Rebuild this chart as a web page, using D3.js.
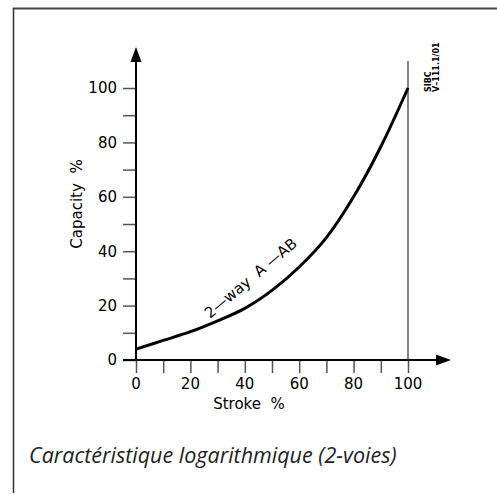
<!DOCTYPE html>
<html><head><meta charset="utf-8">
<script src="https://cdn.jsdelivr.net/npm/d3@7"></script>
<style>html,body{margin:0;padding:0;background:#fff;}svg{display:block;}</style>
</head><body>
<script>
const strokePct = [0, 10, 20, 30, 40, 50, 60, 70, 80, 90, 100];
const capacityPct = [4, 7.2, 10.4, 14.4, 19, 25.6, 34.2, 45, 60, 78.4, 100];
const tickValues = [0, 10, 20, 30, 40, 50, 60, 70, 80, 90, 100];
const tickLabels = ["0", "20", "40", "60", "80", "100"];
const curveLabel = "2\u2014way  A \u2014AB";
const xTitle = "Stroke  %";
const yTitle = "Capacity  %";
const stampLines = ["SIBC", "V\u2013111.1/01"];
const caption = "Caractéristique logarithmique (2-voies)";

const W = 497, H = 495;
const svg = d3.select("body").append("svg").attr("width", W).attr("height", H);

// frame
svg.append("line").attr("x1", 13).attr("y1", 8.5).attr("x2", W).attr("y2", 8.5)
  .attr("stroke", "#4a4a4a").attr("stroke-width", 2);
svg.append("line").attr("x1", 13.5).attr("y1", 8).attr("x2", 13.5).attr("y2", 493)
  .attr("stroke", "#333").attr("stroke-width", 1.5);

const x = d3.scaleLinear().domain([0, 100]).range([136, 408]);
const y = d3.scaleLinear().domain([0, 100]).range([360, 88]);
const font = "'DejaVu Sans', 'Liberation Sans', sans-serif";

// x ticks
const xAxis = d3.axisBottom(x).tickValues(tickValues).tickSize(13).tickFormat("");
const gx = svg.append("g").attr("transform", "translate(0,360)").call(xAxis);
gx.select(".domain").remove();
gx.selectAll(".tick line").attr("stroke", "#555").attr("stroke-width", 1.5);

// y ticks
const yAxis = d3.axisLeft(y).tickValues(tickValues).tickSize(13).tickFormat("");
const gy = svg.append("g").attr("transform", "translate(136,0)").call(yAxis);
gy.select(".domain").remove();
gy.selectAll(".tick line").attr("stroke", "#555").attr("stroke-width", 1.5);

// tick labels
tickLabels.forEach(t => {
  const v = +t;
  svg.append("text").attr("x", x(v)).attr("y", 389).attr("text-anchor", "middle")
    .attr("font-family", font).attr("font-size", 15).attr("fill", "#000").text(t);
  svg.append("text").attr("x", 117).attr("y", y(v)).attr("dy", "0.36em").attr("text-anchor", "end")
    .attr("font-family", font).attr("font-size", 15).attr("fill", "#000").text(t);
});

// vertical line at 100
svg.append("line").attr("x1", x(100)).attr("x2", x(100)).attr("y1", 61).attr("y2", y(0))
  .attr("stroke", "#333").attr("stroke-width", 1.2);

// axes lines
svg.append("line").attr("x1", 123).attr("x2", 440).attr("y1", y(0)).attr("y2", y(0))
  .attr("stroke", "#000").attr("stroke-width", 2);
svg.append("line").attr("x1", x(0)).attr("x2", x(0)).attr("y1", y(0)).attr("y2", 58)
  .attr("stroke", "#000").attr("stroke-width", 2);
// arrowheads
svg.append("path").attr("d", `M${x(0)-5.5},62 L${x(0)+5.5},62 L${x(0)},47 Z`).attr("fill", "#000");
svg.append("path").attr("d", `M436,${y(0)-5.5} L436,${y(0)+5.5} L451,${y(0)} Z`).attr("fill", "#000");

// curve
const data = strokePct.map((s, i) => [s, capacityPct[i]]);
svg.append("path").datum(data)
  .attr("d", d3.line().x(d => x(d[0])).y(d => y(d[1])).curve(d3.curveCatmullRom.alpha(0.5)))
  .attr("fill", "none").attr("stroke", "#000").attr("stroke-width", 3);

// curve label
svg.append("text").attr("transform", "translate(210,319) rotate(-40)")
  .attr("font-family", font).attr("font-size", 15).attr("fill", "#000")
  .style("white-space", "pre").attr("xml:space", "preserve")
  .text(curveLabel);

// axis titles
svg.append("text").attr("x", 249).attr("y", 409).attr("text-anchor", "middle")
  .attr("font-family", font).attr("font-size", 15).attr("fill", "#000")
  .style("white-space", "pre").attr("xml:space", "preserve").text(xTitle);
svg.append("text").attr("transform", "translate(82,204) rotate(-90)").attr("text-anchor", "middle")
  .attr("font-family", font).attr("font-size", 15).attr("fill", "#000")
  .style("white-space", "pre").attr("xml:space", "preserve").text(yTitle);

// stamp
stampLines.forEach((t, i) => {
  svg.append("text").attr("transform", `translate(${431 + i * 8},92) rotate(-90)`)
    .attr("font-family", font).attr("font-size", 8).attr("font-weight", "bold").attr("fill", "#000")
    .text(t);
});

// caption
svg.append("text").attr("x", 29).attr("y", 463)
  .attr("font-family", "'Open Sans', 'Noto Sans', sans-serif").attr("font-style", "italic")
  .attr("font-size", 21.5).attr("fill", "#222").text(caption);
</script>
</body></html>
